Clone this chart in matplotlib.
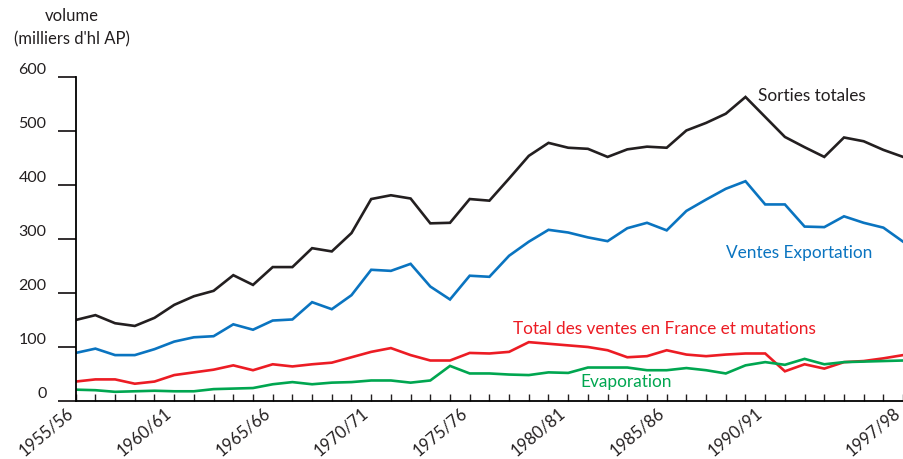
import numpy as np
import matplotlib
matplotlib.use("Agg")
import matplotlib.pyplot as plt
from matplotlib.transforms import ScaledTranslation

plt.rcParams['font.family'] = ['Lato', 'DejaVu Sans']

# campagnes 1955/56 .. 1997/98
years = [f"{y}/{(y + 1) % 100:02d}" for y in range(1955, 1998)]
tick_idx = [0, 5, 10, 15, 20, 25, 30, 35, 42]

sorties = [150, 159, 144, 139, 154, 178, 194, 204, 233, 215, 248, 248, 283, 277, 311,
           374, 381, 375, 329, 330, 374, 371, 412, 454, 478, 469, 467, 452, 466, 471,
           469, 501, 515, 532, 563, 526, 489, 470, 452, 488, 481, 465, 452]
export = [89, 97, 85, 85, 96, 110, 118, 120, 142, 132, 149, 151, 183, 170, 196,
          243, 241, 254, 212, 188, 232, 230, 269, 295, 317, 312, 303, 296, 320, 330,
          316, 352, 373, 393, 407, 364, 364, 323, 322, 342, 330, 321, 295]
france = [36, 40, 40, 32, 36, 48, 53, 58, 66, 57, 68, 64, 68, 71, 81,
          91, 98, 85, 75, 75, 89, 88, 91, 109, 106, 103, 100, 94, 81, 83,
          94, 86, 83, 86, 88, 88, 55, 68, 60, 72, 74, 79, 85]
evapo = [21, 20, 17, 18, 19, 18, 18, 22, 23, 24, 31, 35, 31, 34, 35,
         38, 38, 34, 38, 65, 51, 51, 49, 48, 53, 52, 62, 62, 62, 57,
         57, 61, 57, 51, 66, 72, 67, 78, 68, 72, 73, 74, 75]

fig = plt.figure(figsize=(9.04, 4.59), dpi=100)
ax = fig.add_axes([75.7 / 904, 1 - 401 / 459, 1 - 75.7 / 904 - 0.001, (401 - 77) / 459])

x = np.arange(len(years))
lw = 1.9
ax.plot(x, sorties, color="#231f20", lw=lw, solid_joinstyle="miter")
ax.plot(x, export, color="#0a74c0", lw=lw, solid_joinstyle="miter")
ax.plot(x, france, color="#ec1c24", lw=lw, solid_joinstyle="miter")
ax.plot(x, evapo, color="#00a650", lw=lw, solid_joinstyle="miter")

ax.set_xlim(0, len(years) - 1)
ax.set_ylim(0, 600)
for s in ["top", "right"]:
    ax.spines[s].set_visible(False)
ax.spines["left"].set_linewidth(1.3)
ax.spines["bottom"].set_linewidth(1.3)

ax.set_yticks(range(0, 601, 100))
ax.set_yticklabels([str(v) for v in range(0, 601, 100)])
ax.tick_params(axis="y", length=13, width=1.3, pad=8, labelsize=11.5, colors="#231f20")
for lbl in ax.get_yticklabels():
    lbl.set_va("bottom")

ax.set_xticks(x)
ax.set_xticklabels([])
ax.tick_params(axis="x", direction="in", length=5, width=1.0, colors="#231f20")

# slanted year labels, placed by hand under their ticks
off = ScaledTranslation(-1.5 / 100, -14 / 100, fig.dpi_scale_trans)
for i in tick_idx:
    ax.text(i, 0, years[i], transform=ax.get_xaxis_transform() + off,
            rotation=40, rotation_mode="anchor", ha="right", va="baseline",
            fontsize=12, color="#231f20", clip_on=False)

fig.text(72 / 904, 1 - 16 / 459, "volume", ha="center", va="center", fontsize=12, color="#231f20")
fig.text(72 / 904, 1 - 39 / 459, "(milliers d'hl AP)", ha="center", va="center", fontsize=12,
         color="#231f20")

ax.text(34.65, 565, "Sorties totales", fontsize=12.4, color="#231f20", va="center")
ax.text(33.0, 274, "Ventes Exportation", fontsize=12.4, color="#0a74c0", va="center")
ax.text(22.2, 134, "Total des ventes en France et mutations", fontsize=12.4, color="#ec1c24",
        va="center")
ax.text(25.6, 36, "Evaporation", fontsize=12.4, color="#00a650", va="center")

fig.savefig("out.png", dpi=100)
